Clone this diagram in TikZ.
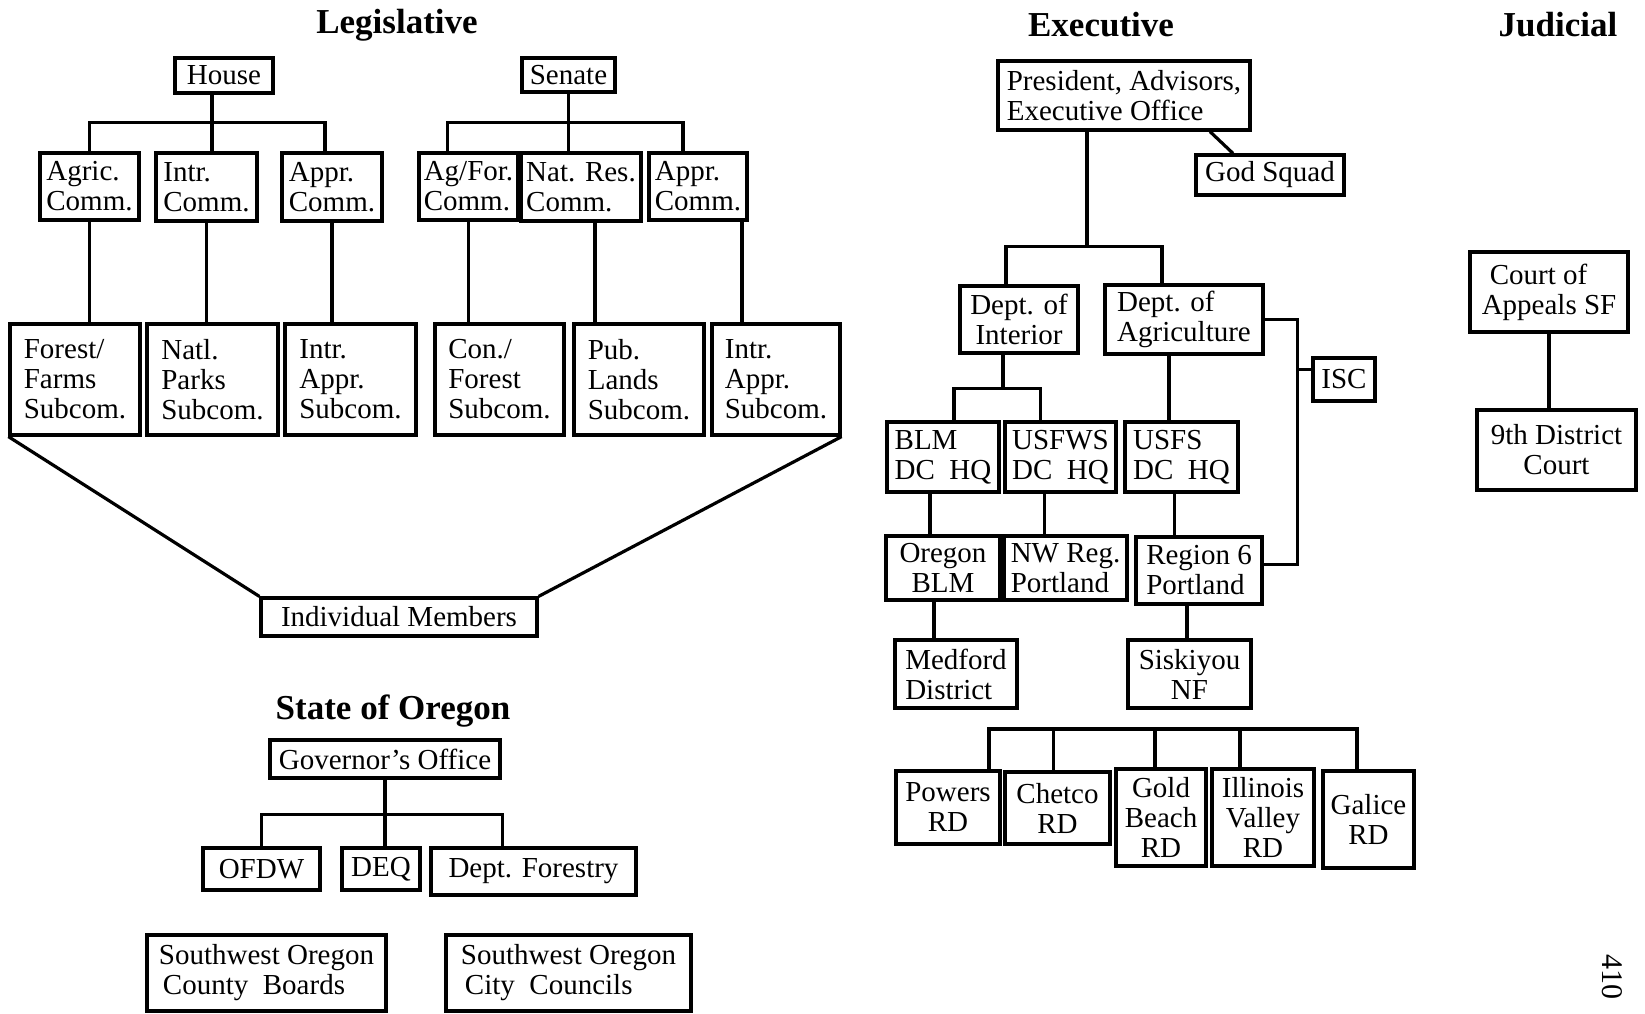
\documentclass[tikz,border=0pt]{standalone}
\usepackage{fontspec}
\setmainfont{Liberation Serif}
\newcommand{\mybox}[7][left]{%
  \node[bx,align=#1,minimum width={(#5)-(#3)},minimum height={(#6)-(#4)}]
    (#2) at ({((#3)+(#5))/2},{((#4)+(#6))/2}) {#7};}
\begin{document}
\begin{tikzpicture}[x=1pt,y=-1pt,
  bx/.style={draw,line width=3.2pt,inner sep=0pt,font=\fontsize{29}{30}\selectfont},
  ttl/.style={font=\bfseries\fontsize{35}{40}\selectfont},
  ln/.style={line width=3.2pt}]
\useasboundingbox (0,0) rectangle (1645,1013);

% ---------- titles
\node[ttl] (tleg) at (397,25) {Legislative};
\node[ttl] (texe) at (1101,25) {Executive};
\node[ttl] (tjud) at (1558,25) {Judicial};
\node[ttl] (tore) at (393,711) {State of Oregon};

% ---------- Legislative
\mybox[center]{house}{175}{58}{273}{93}{House}
\mybox[center]{senate}{522}{58}{615}{92}{Senate}
\mybox{agric}{40}{153}{139}{220}{Agric.\\Comm.}
\mybox{intrH}{156}{153}{257}{221}{Intr.\\Comm.}
\mybox{apprH}{282}{153}{382}{221}{Appr.\\Comm.}
\mybox{agfor}{419}{153}{518}{220}{Ag/For.\\Comm.}
\mybox{natres}{521}{153}{641}{221}{Nat. Res.\\Comm.}
\mybox{apprS}{649}{153}{747}{220}{Appr.\\Comm.}
\mybox{ffs}{10}{324}{140}{435}{Forest/\\Farms\\Subcom.}
\mybox{nps}{147}{324}{278}{435}{Natl.\\Parks\\Subcom.}
\mybox{iasA}{285}{324}{416}{435}{Intr.\\Appr.\\Subcom.}
\mybox{cfs}{435}{324}{564}{435}{Con./\\Forest\\Subcom.}
\mybox{pls}{574}{324}{704}{435}{Pub.\\Lands\\Subcom.}
\mybox{iasB}{712}{324}{840}{435}{Intr.\\Appr.\\Subcom.}
\mybox[center]{im}{261}{598}{537}{636}{Individual Members}

\draw[ln] ([xshift=-12pt]house.south) -- ++(0,28) coordinate (hb);
\draw[ln] (agric.north) |- ([xshift=-7pt]apprH.north |- hb) -- ([xshift=-7pt]apprH.north);
\draw[ln] (hb) -- (hb |- intrH.north);
\draw[ln] (senate.south) -- ++(0,29) coordinate (sb);
\draw[ln] ([xshift=-21pt]agfor.north) |- ([xshift=-15pt]apprS.north |- sb) -- ([xshift=-15pt]apprS.north);
\draw[ln] (sb) -- (sb |- natres.north);

\draw[ln] (agric.south) -- (agric.south |- ffs.north);
\draw[ln] (intrH.south) -- (intrH.south |- nps.north);
\draw[ln] (apprH.south) -- (apprH.south |- iasA.north);
\draw[ln] (agfor.south) -- (agfor.south |- cfs.north);
\draw[ln] ([xshift=14pt]natres.south) -- ([xshift=14pt]natres.south |- pls.north);
\draw[ln] ([xshift=44pt]apprS.south) -- ([xshift=44pt]apprS.south |- iasB.north);

\draw[ln] (ffs.south west) -- (im.north west);
\draw[ln] (iasB.south east) -- (im.north east);

% ---------- State of Oregon
\mybox[center]{gov}{270}{740}{500}{778}{Governor's Office}
\mybox[center]{ofdw}{203}{848}{320}{890}{OFDW}
\mybox[center]{deq}{342}{848}{420}{890}{DEQ}
\mybox[center]{dfor}{431}{848}{636}{895}{Dept. Forestry}
\mybox{swc}{147}{935}{386}{1011}{Southwest Oregon\\\hspace{4pt}County\enspace Boards}
\mybox{swcc}{446}{935}{691}{1011}{Southwest Oregon\\\hspace{4pt}City\enspace Councils}

\draw[ln] (gov.south) -- ++(0,35) coordinate (gb);
\draw[ln] (ofdw.north) |- ([xshift=-31pt]dfor.north |- gb) -- ([xshift=-31pt]dfor.north);
\draw[ln] (gb) -- (gb |- deq.north);

% ---------- Executive
\mybox{pres}{998}{61}{1250}{130}{President, Advisors,\\Executive Office}
\mybox[center]{god}{1196}{155}{1344}{195}{God Squad}
\mybox[center]{doi}{960}{286}{1078}{353}{Dept. of\\Interior}
\mybox{doa}{1105}{285}{1263}{354}{Dept. of\\Agriculture}
\mybox[center]{isc}{1313}{358}{1375}{401}{ISC}
\mybox{blm}{887}{422}{999}{492}{BLM\\DC\enspace HQ}
\mybox{usfws}{1005}{422}{1116}{492}{USFWS\\DC\enspace HQ}
\mybox{usfs}{1125}{422}{1238}{492}{USFS\\DC\enspace HQ}
\mybox[center]{orblm}{886}{536}{1000}{600}{Oregon\\BLM\hspace{20pt}}
\mybox{nwreg}{1004}{536}{1127}{600}{NW Reg.\\Portland}
\mybox{reg6}{1136}{537}{1262}{604}{Region 6\\Portland}
\mybox{medf}{895}{640}{1017}{708}{Medford\\District}
\mybox[center]{sisk}{1128}{640}{1251}{708}{Siskiyou\\NF}
\mybox[center]{powers}{896}{771}{1000}{844}{Powers\\RD}
\mybox[center]{chetco}{1005}{772}{1110}{844}{Chetco\\RD}
\mybox[center]{goldb}{1116}{769}{1206}{866}{Gold\\Beach\\RD}
\mybox[center]{illv}{1212}{769}{1314}{866}{Illinois\\Valley\\RD}
\mybox[center]{galice}{1323}{771}{1414}{868}{Galice\\RD}

\draw[ln] ([xshift=86pt]pres.south) -- ([xshift=-37pt]god.north);
\draw[ln] ([xshift=-37pt]pres.south) -- ++(0,115) coordinate (pb);
\draw[ln] ([xshift=-13pt]doi.north) |- ([xshift=-22pt]doa.north |- pb) -- ([xshift=-22pt]doa.north);
\draw[ln] ([xshift=-16pt]doi.south) -- ++(0,34) coordinate (ib);
\draw[ln] ([xshift=11pt]blm.north) |- ([xshift=-20pt]usfws.north |- ib) -- ([xshift=-20pt]usfws.north);
\draw[ln] ([xshift=-15pt]doa.south) -- ([xshift=-15pt]doa.south |- usfs.north);
\draw[ln] ([xshift=-13pt]blm.south) -- ([xshift=-13pt]blm.south |- orblm.north);
\draw[ln] ([xshift=-16pt]usfws.south) -- ([xshift=-16pt]usfws.south |- nwreg.north);
\draw[ln] ([xshift=-7pt]usfs.south) -- ([xshift=-7pt]usfs.south |- reg6.north);
\draw[ln] ([xshift=-9pt]orblm.south) -- ([xshift=-9pt]orblm.south |- medf.north);
\draw[ln] ([xshift=-12pt]reg6.south) -- ([xshift=-12pt]reg6.south |- sisk.north);
\draw[ln] (doa.east) -- ++(33,0) coordinate (iscx) |- ([yshift=6pt]reg6.east);
\draw[ln] ([yshift=10pt]isc.west) -- ([yshift=10pt]isc.west -| iscx);

\coordinate (rdbar) at (1000,729);
\draw[ln] ([xshift=41pt]powers.north) |- ([xshift=-11.5pt]galice.north |- rdbar) -- ([xshift=-11.5pt]galice.north);
\draw[ln] ([xshift=-4pt]chetco.north |- rdbar) -- ([xshift=-4pt]chetco.north);
\draw[ln] ([xshift=-6pt]goldb.north |- rdbar) -- ([xshift=-6pt]goldb.north);
\draw[ln] ([xshift=-23pt]illv.north |- rdbar) -- ([xshift=-23pt]illv.north);

% ---------- Judicial
\mybox{coa}{1470}{252}{1628}{332}{\hspace{8pt}Court of\\Appeals SF}
\mybox[center]{ndc}{1477}{410}{1636}{490}{9th District\\Court}
\draw[ln] (coa.south) -- (coa.south |- ndc.north);

\node[rotate=-90,font=\fontsize{30}{30}\selectfont] (pg) at (1612,977) {410};
\end{tikzpicture}
\end{document}
